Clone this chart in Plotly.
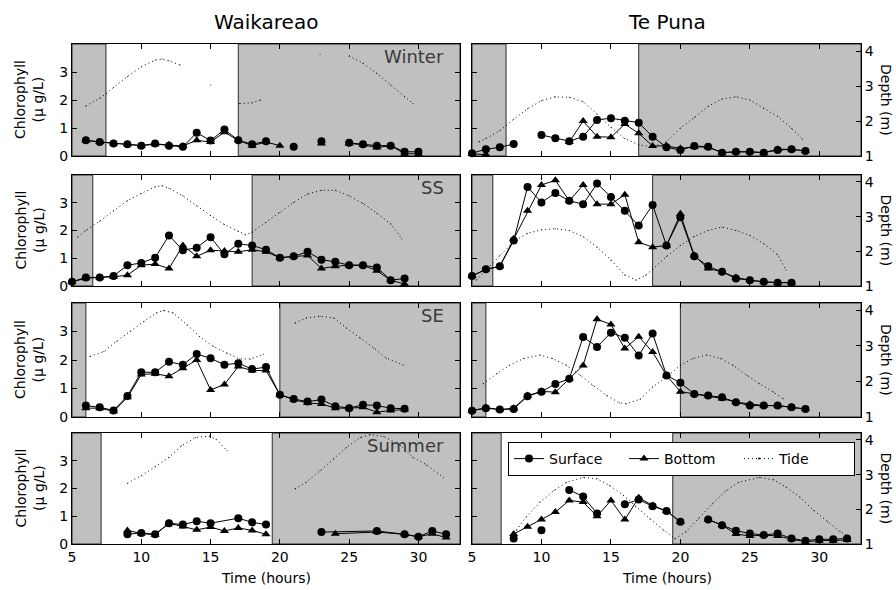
import plotly.graph_objects as go

# ---------------- data ----------------
SITES = ["Waikareao", "Te Puna"]
SEASONS = ["Winter", "SS", "SE", "Summer"]

# night/day boundaries (hours) per season row: sunrise, sunset
SUNRISE = [7.45, 6.5, 6.0, 7.1]
SUNSET = [17.0, 18.0, 20.0, 19.45]

# ---- Waikareao, Winter
WW_T = list(range(6, 31))
WW_SURF = [0.56, 0.50, 0.45, 0.42, 0.37, 0.45, 0.37, 0.33, 0.83, 0.55, 0.95, 0.56, 0.42, 0.53,
           None, 0.33, None, 0.53, None, 0.47, 0.42, 0.37, 0.37, 0.15, 0.15]
WW_BOT = [0.55, 0.50, 0.45, 0.42, 0.37, 0.42, 0.40, 0.36, 0.56, 0.50, 0.85, 0.56, 0.37, 0.50,
          0.37, None, None, 0.45, None, 0.45, 0.40, 0.30, 0.37, 0.08, 0.08]
WW_TIDE_T = [6, 7, 7.5, 8, 9, 10, 11, 11.5, 12, 12.8, 13.5, 15, 16, 17.1, 18, 18.6, 20, 22.9, 24,
             25, 26, 27, 28, 29, 29.6]
WW_TIDE = [2.43, 2.65, 2.79, 2.96, 3.27, 3.55, 3.74, 3.77, 3.72, 3.60, None, 3.03, None, 2.50,
           2.52, 2.60, None, 3.91, None, 3.86, 3.65, 3.36, 3.03, 2.69, 2.50]

# ---- Waikareao, SS
WS_T = list(range(5, 30))
WS_SURF = [0.15, 0.31, 0.31, 0.36, 0.75, 0.83, 1.02, 1.82, 1.29, 1.38, 1.76, 1.14, 1.52, 1.46,
           1.31, 1.02, 1.07, 1.23, 0.95, 0.87, 0.75, 0.75, 0.67, 0.21, 0.27]
WS_BOT = [0.15, 0.28, 0.31, 0.33, 0.39, 0.75, 0.79, 0.63, 1.46, 1.07, 1.29, 1.26, 1.23, 1.31,
          1.23, 1.02, 1.07, 1.10, 0.63, 0.71, 0.75, 0.75, 0.55, 0.21, 0.07]
WS_TIDE_T = [5.4, 6, 7, 8, 9, 10, 11, 11.5, 12, 13, 14, 15, 16, 17, 17.5, 18, 19, 20, 21, 22, 23,
             24, 25, 26, 27, 28, 28.8]
WS_TIDE = [2.41, 2.60, 2.87, 3.17, 3.46, 3.67, 3.86, 3.89, 3.82, 3.60, 3.31, 3.03, 2.77, 2.58,
           2.48, 2.55, 2.84, 3.12, 3.41, 3.65, 3.76, 3.76, 3.60, 3.38, 3.10, 2.79, 2.36]

# ---- Waikareao, SE
WE_T = list(range(6, 30))
WE_SURF = [0.40, 0.34, 0.23, 0.74, 1.57, 1.57, 1.94, 1.83, 2.21, 2.06, 1.83, 1.89, 1.68, 1.75,
           0.78, 0.63, 0.54, 0.61, 0.38, 0.31, 0.43, 0.40, 0.31, 0.29]
WE_BOT = [0.31, 0.31, 0.20, 0.69, 1.49, 1.52, 1.43, 1.71, 2.00, 0.95, 1.14, 1.77, 1.63, 1.63,
          0.78, 0.61, 0.49, 0.46, 0.31, 0.31, 0.34, 0.17, 0.23, 0.26]
WE_TIDE_T = [6.3, 7.3, 8.2, 9.2, 10.2, 11.1, 11.6, 12.3, 13.3, 14.2, 15.2, 16.2, 17.1, 17.9, 18.8,
             20, 21.1, 21.9, 22.9, 23.9, 24.8, 25.8, 26.8, 27.7, 28.9]
WE_TIDE = [2.70, 2.84, 3.12, 3.41, 3.69, 3.92, 3.99, 3.92, 3.59, 3.26, 2.98, 2.79, 2.63, 2.63, 2.76,
           None, 3.64, 3.78, 3.83, 3.78, 3.50, 3.22, 2.93, 2.65, 2.46]

# ---- Waikareao, Summer
WSU_SURF_T = [9, 10, 11, 12, 13, 14, 15, 17, 18, 19, 21, 23, 27, 29, 30, 31, 32]
WSU_SURF = [0.35, 0.40, 0.35, 0.75, 0.70, 0.82, 0.75, 0.93, 0.78, 0.70, None, 0.43, 0.47, 0.35,
            0.26, 0.47, 0.35]
WSU_BOT_T = [9, 10, 11, 12, 13, 14, 15, 16, 17, 18, 19, 21, 24, 27, 29, 30, 31, 32]
WSU_BOT = [0.49, 0.38, 0.33, 0.75, 0.63, 0.51, 0.61, 0.47, 0.58, 0.49, 0.35, None, 0.37, 0.43,
           0.35, 0.26, 0.37, 0.23]
WSU_TIDE_T = [9, 10, 11, 12, 12.9, 13.9, 14.9, 15.4, 16.2, 18, 21.1, 21.9, 22.9, 23.9, 24.8, 25.8,
              26.5, 27.5, 28.7, 29.6, 30.6, 31.8]
WSU_TIDE = [2.75, 2.97, 3.23, 3.50, 3.83, 4.07, 4.11, 4.02, 3.69, None, 2.59, 2.78, 3.11, 3.45,
            3.78, 4.07, 4.15, 4.10, 3.85, 3.50, 3.28, 2.92]

# ---- Te Puna, Winter
TW_T = list(range(5, 30))
TW_SURF = [0.10, 0.24, 0.31, 0.43, None, 0.75, 0.63, 0.53, 0.69, 1.29, 1.35, 1.26, 1.19, 0.69,
           0.31, 0.21, 0.36, 0.33, 0.12, 0.15, 0.15, 0.12, 0.21, 0.24, 0.18]
TW_BOT = [0.08, 0.05, None, None, None, None, None, 0.50, 1.25, 0.69, 0.67, 1.14, 0.81, 0.36,
          0.36, 0.27, 0.33, 0.31, 0.12, 0.15, 0.15, 0.12, 0.24, 0.24, 0.18]
TW_TIDE_T = [5.5, 6, 7, 8, 9, 10, 11, 12, 13, 14, 15, 16, 17, 18, 19, 20, 21, 22, 23, 24, 25, 26,
             27, 28, 28.8]
TW_TIDE = [1.41, 1.50, 1.72, 2.05, 2.35, 2.58, 2.69, 2.68, 2.55, 2.20, 1.82, 1.50, 1.32, 1.26,
           1.40, 1.80, 2.10, 2.42, 2.63, 2.69, 2.60, 2.36, 2.13, 1.79, 1.48]

# ---- Te Puna, SS
TS_T = list(range(5, 29))
TS_SURF = [0.36, 0.60, 0.71, 1.64, 3.57, 3.01, 3.35, 3.07, 2.95, 3.69, 3.21, 2.71, 2.18, 2.92,
           1.46, 2.48, 1.07, 0.71, 0.51, 0.27, 0.21, 0.15, 0.12, 0.12]
TS_BOT = [0.36, 0.60, 0.71, 1.70, 2.71, 3.64, 3.81, 3.07, 3.64, 2.95, 2.95, 3.29, 1.58, 1.40,
          1.46, 2.60, 1.10, 0.63, 0.51, 0.31, 0.21, 0.15, 0.12, 0.12]
TS_TIDE_T = [5.3, 6, 7, 8, 9, 10, 11, 12, 13, 14, 15, 16, 16.8, 17.5, 18, 19, 20, 21, 22, 23, 24,
             25, 26, 27, 27.6]
TS_TIDE = [1.17, 1.45, 1.88, 2.28, 2.52, 2.62, 2.65, 2.60, 2.42, 2.12, 1.75, 1.32, 1.17, 1.31,
           1.48, 1.85, 2.17, 2.43, 2.60, 2.70, 2.60, 2.46, 2.22, 1.90, 1.46]

# ---- Te Puna, SE
TE_T = list(range(5, 30))
TE_SURF = [0.22, 0.31, 0.26, 0.28, 0.73, 0.89, 1.16, 1.34, 2.81, 2.46, 2.96, 2.78, 2.16, 2.93,
           1.46, 1.20, 0.81, 0.75, 0.69, 0.52, 0.40, 0.40, 0.40, 0.34, 0.28]
TE_BOT = [0.22, 0.33, 0.26, 0.31, 0.75, 0.90, 0.87, 1.34, 1.81, 3.43, 3.25, 2.40, 2.82, 2.28,
          1.46, 0.89, 0.81, 0.75, 0.65, 0.52, 0.45, 0.40, 0.40, 0.34, 0.28]
TE_TIDE_T = [5.8, 6.8, 7.7, 8.7, 9.9, 10.8, 11.8, 12.8, 13.7, 14.7, 15.6, 16.1, 17.1, 18, 19, 20,
             20.9, 21.9, 22.9, 23.8, 24.8, 25.7, 26.7, 27.4]
TE_TIDE = [1.93, 2.22, 2.45, 2.64, 2.74, 2.64, 2.45, 2.17, 1.89, 1.60, 1.40, 1.37, 1.50, 1.84,
           2.12, 2.45, 2.64, 2.74, 2.64, 2.45, 2.17, 1.93, 1.70, 1.51]

# ---- Te Puna, Summer
TSU_T = list(range(8, 33))
TSU_SURF = [0.20, None, 0.50, None, 1.95, 1.71, 1.10, None, 1.43, 1.60, 1.36, 1.19, 0.80, None,
            0.88, 0.68, 0.48, 0.38, 0.32, 0.38, 0.20, 0.12, 0.17, 0.17, 0.20]
TSU_BOT = [0.36, 0.62, 0.88, 1.15, 1.57, 1.51, 1.00, 1.57, 0.88, 1.67, 1.39, 1.19, 0.80, None,
           0.88, 0.68, 0.36, 0.29, 0.32, 0.29, 0.17, 0.08, 0.12, 0.12, 0.14]
TSU_TIDE_T = [8.2, 8.9, 9.9, 10.9, 11.8, 13, 14, 14.9, 15.9, 16.8, 17.8, 18.8, 19.6, 20.4, 21.3,
              22.3, 23.3, 24.2, 25.7, 26.7, 27.6, 28.6, 29.6, 30.6, 31.5, 32.1]
TSU_TIDE = [1.40, 1.78, 2.21, 2.54, 2.78, 2.92, 2.88, 2.69, 2.40, 2.07, 1.73, 1.40, 1.15, 1.35,
            1.73, 2.16, 2.54, 2.78, 2.92, 2.85, 2.64, 2.35, 1.97, 1.64, 1.35, 1.23]

X_TICKS = [5, 10, 15, 20, 25, 30]
CHL_TICKS = [0, 1, 2, 3, 4]
CHL_TICKTEXT = ["0", "1", "2", "3", ""]
DEPTH_TICKS = [1, 2, 3, 4]

# (row, col) -> (surf_t, surf, bot_t, bot, tide_t, tide)
PANELS = {
    (0, 0): (WW_T, WW_SURF, WW_T, WW_BOT, WW_TIDE_T, WW_TIDE),
    (1, 0): (WS_T, WS_SURF, WS_T, WS_BOT, WS_TIDE_T, WS_TIDE),
    (2, 0): (WE_T, WE_SURF, WE_T, WE_BOT, WE_TIDE_T, WE_TIDE),
    (3, 0): (WSU_SURF_T, WSU_SURF, WSU_BOT_T, WSU_BOT, WSU_TIDE_T, WSU_TIDE),
    (0, 1): (TW_T, TW_SURF, TW_T, TW_BOT, TW_TIDE_T, TW_TIDE),
    (1, 1): (TS_T, TS_SURF, TS_T, TS_BOT, TS_TIDE_T, TS_TIDE),
    (2, 1): (TE_T, TE_SURF, TE_T, TE_BOT, TE_TIDE_T, TE_TIDE),
    (3, 1): (TSU_T, TSU_SURF, TSU_T, TSU_BOT, TSU_TIDE_T, TSU_TIDE),
}

# ---------------- layout geometry ----------------
W, H = 896, 590
FONT = "DejaVu Sans"
COL_X = [(72, 460), (472, 861)]
ROW_Y = [(44, 156), (175, 286), (303, 417), (433, 544)]
GRAY = "#c0c0c0"


def nm(prefix, n):
    return prefix if n == 1 else f"{prefix}{n}"


fig = go.Figure()
layout = {}
shapes = []
annotations = []

for row in range(4):
    for col in range(2):
        k = row * 2 + col
        xn = k + 1
        yc = 2 * k + 1
        yd = 2 * k + 2
        xa, ya_c, ya_d = nm("x", xn), nm("y", yc), nm("y", yd)
        x0, x1 = COL_X[col]
        t0, t1 = ROW_Y[row]
        axcommon = dict(showgrid=False, zeroline=False, linecolor="black", linewidth=1,
                        tickcolor="black", ticklen=5, tickwidth=1, ticks="inside",
                        tickfont=dict(family=FONT, size=14, color="black"))
        layout[nm("xaxis", xn)] = dict(
            axcommon, domain=[x0 / W, x1 / W], range=[5, 33], anchor=ya_c,
            tickvals=X_TICKS, showline=True, mirror="ticks", showticklabels=(row == 3))
        layout[nm("yaxis", yc)] = dict(
            axcommon, domain=[1 - t1 / H, 1 - t0 / H], range=[0, 4], anchor=xa,
            tickvals=CHL_TICKS, ticktext=CHL_TICKTEXT, showline=True,
            mirror=("ticks" if col == 0 else False), showticklabels=(col == 0))
        layout[nm("yaxis", yd)] = dict(
            axcommon, overlaying=ya_c, anchor=xa, side="right", range=[1, 4.2],
            tickvals=DEPTH_TICKS, showline=True, showticklabels=(col == 1),
            visible=(col == 1))

        # night shading
        for a, b in [(5, SUNRISE[row]), (SUNSET[row], 33)]:
            shapes.append(dict(type="rect", xref=xa, yref=f"{ya_c} domain", x0=a, x1=b,
                               y0=0, y1=1, fillcolor=GRAY, layer="below",
                               line=dict(color="#2a2a2a", width=1)))

        st, sv, bt, bv, tt, tv = PANELS[(row, col)]
        first = (k == 0)
        fig.add_trace(go.Scatter(
            x=st, y=sv, xaxis=xa, yaxis=ya_c, mode="lines+markers", name="Surface",
            legendgroup="s", showlegend=first, cliponaxis=False,
            line=dict(color="black", width=1),
            marker=dict(symbol="circle", size=8, color="black")))
        fig.add_trace(go.Scatter(
            x=bt, y=bv, xaxis=xa, yaxis=ya_c, mode="lines+markers", name="Bottom",
            legendgroup="b", showlegend=first, cliponaxis=False,
            line=dict(color="black", width=1),
            marker=dict(symbol="triangle-up", size=8, color="black")))
        fig.add_trace(go.Scatter(
            x=tt, y=tv, xaxis=xa, yaxis=ya_d, mode="lines+markers", name="Tide",
            legendgroup="t", showlegend=first,
            line=dict(color="black", width=1, dash="1px,3px"),
            marker=dict(size=1, color="black")))

        if col == 0:
            annotations.append(dict(
                text=SEASONS[row], xref=f"{xa} domain", yref=f"{ya_c} domain",
                x=0.965, y=1.0, xanchor="right", yanchor="top", showarrow=False,
                font=dict(family=FONT, size=18, color="#3a3a3a")))
            annotations.append(dict(
                text="Chlorophyll<br>(μ g/L)", xref="paper", yref="paper",
                x=29 / W, y=1 - (t0 + t1) / 2 / H, xanchor="center", yanchor="middle",
                textangle=-90, showarrow=False,
                font=dict(family=FONT, size=14, color="black")))
        else:
            annotations.append(dict(
                text="Depth (m)", xref="paper", yref="paper",
                x=886 / W, y=1 - (t0 + t1) / 2 / H, xanchor="center", yanchor="middle",
                textangle=90, showarrow=False,
                font=dict(family=FONT, size=14, color="black")))

# column titles and x-axis titles
for col, site in enumerate(SITES):
    cx = (COL_X[col][0] + COL_X[col][1]) / 2
    annotations.append(dict(text=site, xref="paper", yref="paper", x=cx / W, y=1 - 22 / H,
                            xanchor="center", yanchor="middle", showarrow=False,
                            font=dict(family=FONT, size=20, color="black")))
    annotations.append(dict(text="Time (hours)", xref="paper", yref="paper", x=cx / W,
                            y=1 - 578 / H, xanchor="center", yanchor="middle",
                            showarrow=False, font=dict(family=FONT, size=14, color="black")))

fig.update_layout(
    width=W, height=H, autosize=False, template="none",
    margin=dict(l=0, r=0, t=0, b=0),
    paper_bgcolor="white", plot_bgcolor="white",
    font=dict(family=FONT, size=14, color="black"),
    shapes=shapes, annotations=annotations,
    legend=dict(orientation="h", x=508 / W, y=1 - 442 / H, xanchor="left", yanchor="top",
                bgcolor="white", bordercolor="black", borderwidth=1,
                font=dict(family=FONT, size=14, color="black"),
                entrywidth=70, traceorder="normal"),
    **layout,
)

fig.write_html("out.html")
